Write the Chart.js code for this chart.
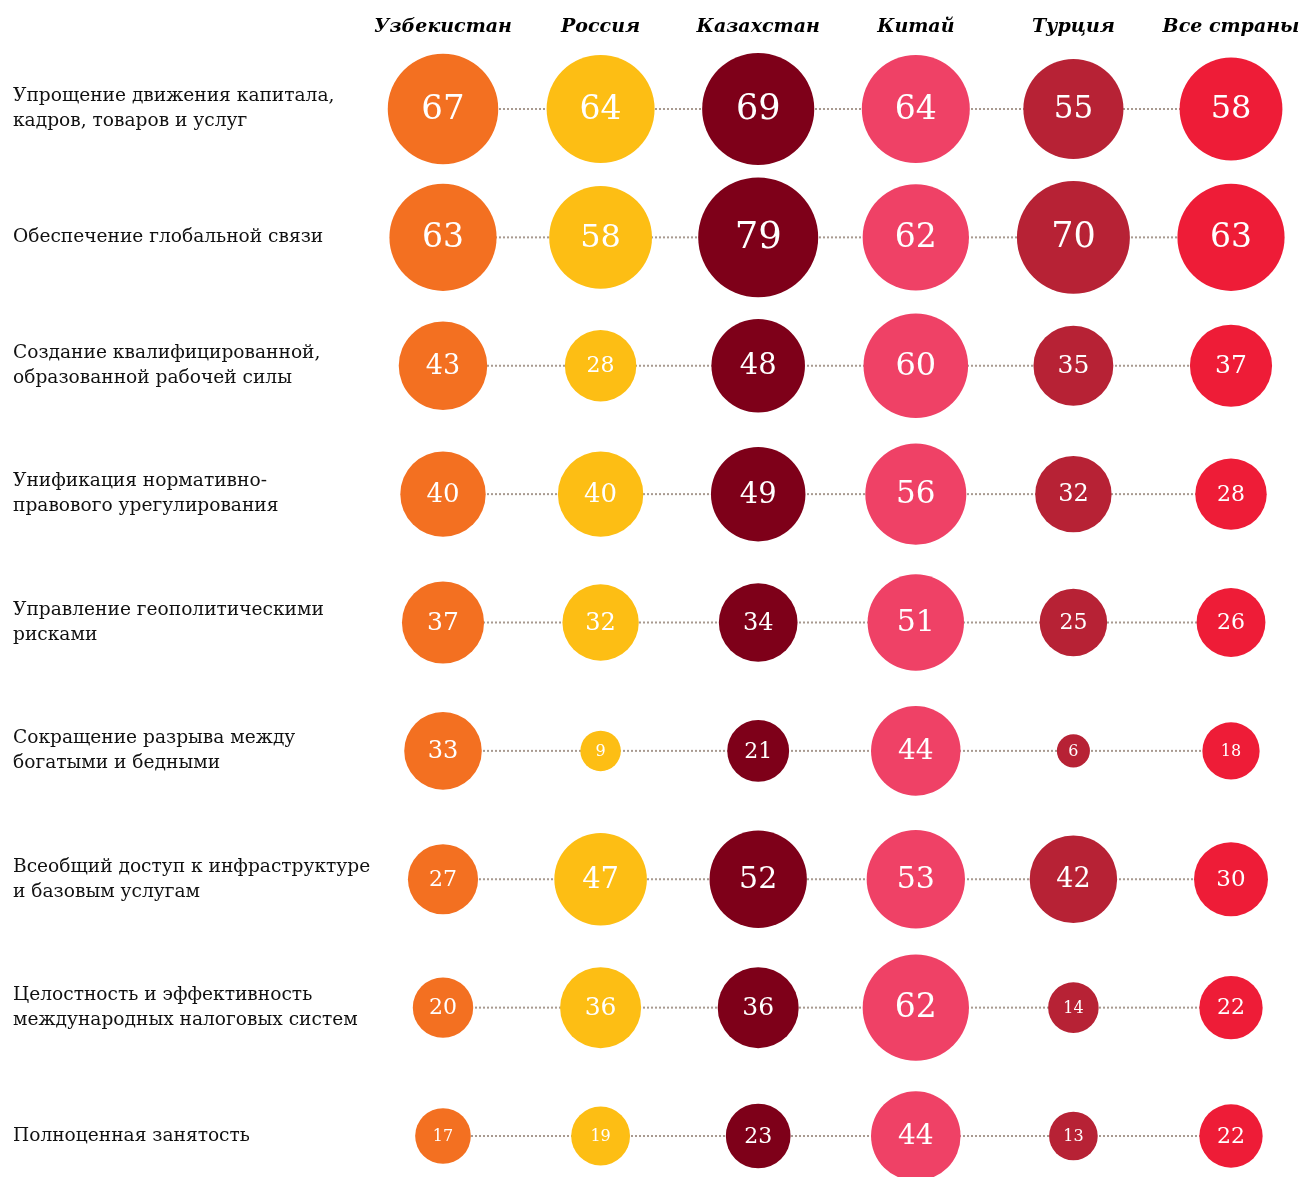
<!DOCTYPE html>
<html>
<head>
<meta charset="utf-8">
<script src="https://cdn.jsdelivr.net/npm/chart.js@4.4.0/dist/chart.umd.min.js"></script>
<style>
  html, body { margin: 0; padding: 0; background: #ffffff; }
  #wrap { width: 1300px; height: 1177px; }
</style>
</head>
<body>
<div id="wrap"><canvas id="c" width="1300" height="1177"></canvas></div>
<script>
// ---- data ----
const countries = ['Узбекистан', 'Россия', 'Казахстан', 'Китай', 'Турция', 'Все страны'];
const categories = [
  ['Упрощение движения капитала,', 'кадров, товаров и услуг'],
  ['Обеспечение глобальной связи'],
  ['Создание квалифицированной,', 'образованной рабочей силы'],
  ['Унификация нормативно-', 'правового урегулирования'],
  ['Управление геополитическими', 'рисками'],
  ['Сокращение разрыва между', 'богатыми и бедными'],
  ['Всеобщий доступ к инфраструктуре', 'и базовым услугам'],
  ['Целостность и эффективность', 'международных налоговых систем'],
  ['Полноценная занятость']
];
const uzbekistan   = [67, 63, 43, 40, 37, 33, 27, 20, 17];
const russia       = [64, 58, 28, 40, 32,  9, 47, 36, 19];
const kazakhstan   = [69, 79, 48, 49, 34, 21, 52, 36, 23];
const china        = [64, 62, 60, 56, 51, 44, 53, 62, 44];
const turkey       = [55, 70, 35, 32, 25,  6, 42, 14, 13];
const allCountries = [58, 63, 37, 28, 26, 18, 30, 22, 22];

// ---- styles ----
const seriesValues = [uzbekistan, russia, kazakhstan, china, turkey, allCountries];
const colors = ['#F37021', '#FDBE14', '#7E0019', '#EF4166', '#B72235', '#EE1C37'];
const AREA_K = 6.75; // bubble area proportional to value
const SERIF = '"DejaVu Serif", "Liberation Serif", serif';

const datasets = [];
categories.forEach((c, i) => {
  datasets.push({
    type: 'line',
    data: [{ x: 0, y: i }, { x: countries.length - 1, y: i }],
    borderColor: '#a89a90',
    borderWidth: 2,
    borderDash: [2, 2],
    pointRadius: 0,
    fill: false,
    order: 10,
    clip: false
  });
});
seriesValues.forEach((vals, ci) => {
  datasets.push({
    type: 'bubble',
    label: countries[ci],
    values: vals,
    data: vals.map((v, ri) => ({ x: ci, y: ri, r: AREA_K * Math.sqrt(v) })),
    backgroundColor: colors[ci],
    borderWidth: 0,
    hoverRadius: 0,
    order: 1,
    clip: false
  });
});

const valueLabels = {
  id: 'valueLabels',
  afterDatasetsDraw(chart) {
    const ctx = chart.ctx;
    ctx.save();
    ctx.fillStyle = '#ffffff';
    ctx.textAlign = 'center';
    ctx.textBaseline = 'middle';
    chart.data.datasets.forEach((ds, di) => {
      if (ds.type !== 'bubble') return;
      const meta = chart.getDatasetMeta(di);
      meta.data.forEach((el, i) => {
        const v = ds.values[i];
        const r = ds.data[i].r;
        const size = v < 20 ? 16 : Math.max(22, Math.round(0.62 * r));
        ctx.font = size + 'px ' + SERIF;
        ctx.fillText(String(v), el.x, el.y + 1);
      });
    });
    ctx.restore();
  }
};

const colStep = 157.6;
const plotLeft = 370;
new Chart(document.getElementById('c'), {
  type: 'bubble',
  data: { datasets },
  plugins: [valueLabels],
  options: {
    responsive: false,
    animation: false,
    layout: { autoPadding: false, padding: { left: 13, right: 0, top: 0, bottom: 41 } },
    plugins: { legend: { display: false }, tooltip: { enabled: false } },
    scales: {
      x: {
        type: 'linear',
        position: 'top',
        min: -(443 - plotLeft) / colStep,
        max: (countries.length - 1) + (1300 - 1231) / colStep,
        grid: { display: false, drawTicks: false },
        border: { display: false },
        afterBuildTicks: s => { s.ticks = countries.map((c, i) => ({ value: i })); },
        afterFit: s => { s.height = 109; s.paddingLeft = 0; s.paddingRight = 0; },
        ticks: {
          autoSkip: false,
          maxRotation: 0,
          padding: 71,
          color: '#000000',
          font: { family: SERIF, size: 19, weight: 'bold', style: 'italic' },
          callback: v => countries[v]
        }
      },
      y: {
        type: 'linear',
        reverse: true,
        min: 0,
        max: categories.length - 1,
        grid: { display: false, drawTicks: false },
        border: { display: false },
        afterBuildTicks: s => { s.ticks = categories.map((c, i) => ({ value: i })); },
        afterFit: s => { s.width = plotLeft - 13; },
        ticks: {
          autoSkip: false,
          crossAlign: 'far',
          color: '#111111',
          font: { family: SERIF, size: 18.6, lineHeight: 1.34 },
          callback: v => categories[v]
        }
      }
    }
  }
});
</script>
</body>
</html>
